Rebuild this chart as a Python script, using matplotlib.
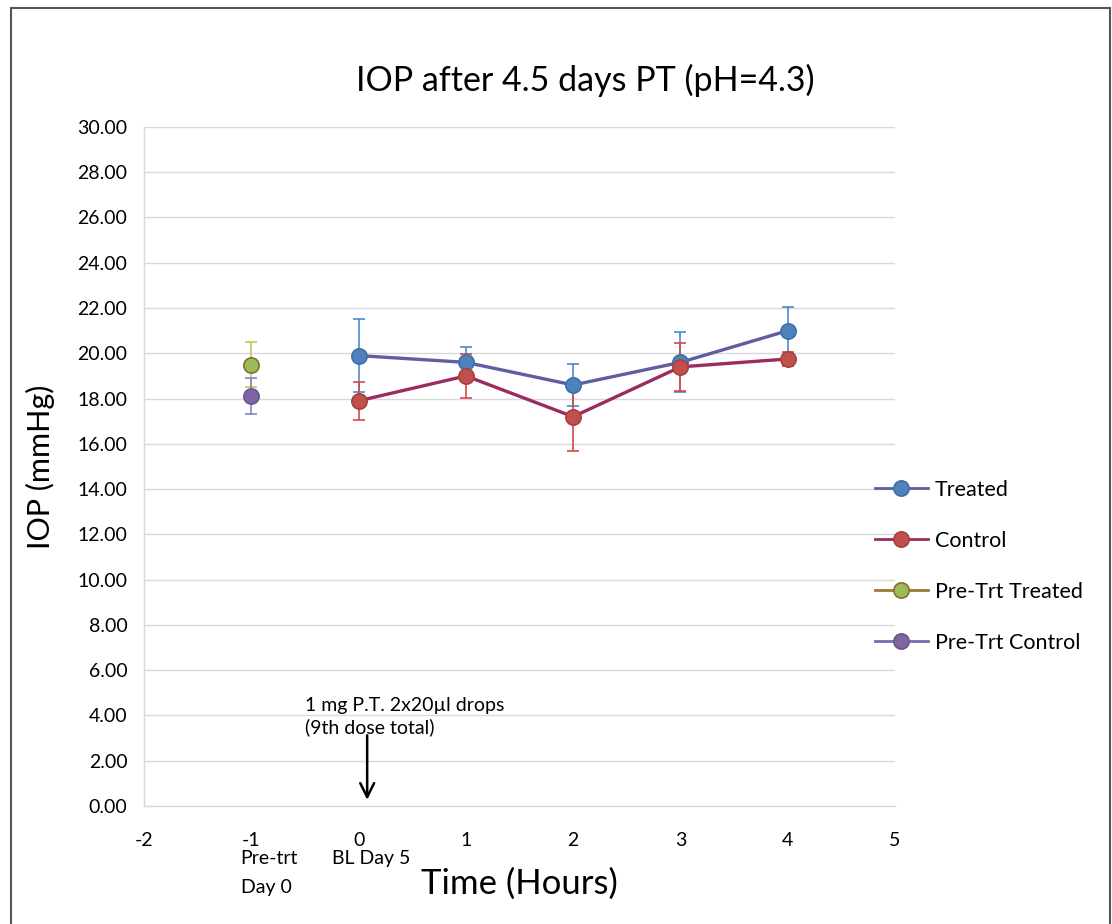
import matplotlib.pyplot as plt
from matplotlib.lines import Line2D
from matplotlib.patches import Rectangle

plt.rcParams["font.family"] = ["Lato", "DejaVu Sans"]
plt.rcParams["axes.unicode_minus"] = False

HOURS = [0, 1, 2, 3, 4]
TREATED = [19.9, 19.6, 18.6, 19.6, 21.0]
TREATED_ERR = [1.6, 0.67, 0.93, 1.33, 1.06]
CONTROL = [17.9, 19.0, 17.2, 19.4, 19.75]
CONTROL_ERR = [0.83, 0.97, 1.5, 1.05, 0.3]

PRE_X = [-1]
PRE_TREATED = [19.5]
PRE_TREATED_ERR = [1.0]
PRE_CONTROL = [18.1]
PRE_CONTROL_ERR = [0.8]

X_TICKS = [-2, -1, 0, 1, 2, 3, 4, 5]
Y_TICKS = [0, 2, 4, 6, 8, 10, 12, 14, 16, 18, 20, 22, 24, 26, 28, 30]

LABELS = ["Treated", "Control", "Pre-Trt Treated", "Pre-Trt Control"]


def draw_series(ax, x, y, err, line_col, face, edge, err_col):
    ax.errorbar(
        x, y, yerr=err,
        fmt="none",
        ecolor=err_col,
        elinewidth=1.2,
        capsize=4.5,
        capthick=1.2,
        zorder=2
    )
    ax.plot(
        x, y,
        color=line_col,
        linewidth=2.4,
        marker="o",
        markersize=11,
        markerfacecolor=face,
        markeredgecolor=edge,
        markeredgewidth=1.2,
        zorder=3
    )


def legend_handle(line_col, face, edge):
    return Line2D([], [], color=line_col, lw=2.0, marker="o", markersize=11,
                  markerfacecolor=face, markeredgecolor=edge,
                  markeredgewidth=1.2)


def main():

    fig = plt.figure(figsize=(11.12, 9.24), dpi=100)

    ax = fig.add_axes([0.1295, 0.1277, 0.6754, 0.7349])

    draw_series(ax, HOURS, TREATED, TREATED_ERR,
                "#5f5f9f", "#4f81bd", "#3f6fa8", "#4a8ad0")
    draw_series(ax, HOURS, CONTROL, CONTROL_ERR,
                "#9b2d5e", "#c0504d", "#a8403e", "#d44848")
    draw_series(ax, PRE_X, PRE_TREATED, PRE_TREATED_ERR,
                "#a07830", "#9bbb59", "#8c6d2e", "#b9d04a")
    draw_series(ax, PRE_X, PRE_CONTROL, PRE_CONTROL_ERR,
                "#7070b0", "#8064a2", "#6a5590", "#8585c0")

    ax.set_xlim(-2, 5)
    ax.set_ylim(0, 30)
    ax.set_xticks(X_TICKS)
    ax.set_yticks(Y_TICKS)
    ax.set_yticklabels([f"{v:.2f}" for v in Y_TICKS])
    ax.tick_params(axis="both", length=0, labelsize=14, colors="#000000")
    ax.tick_params(axis="x", pad=19)
    ax.tick_params(axis="y", pad=12)

    ax.grid(axis="y", color="#d9d9d9", linewidth=1.0)
    ax.set_axisbelow(True)
    for side in ["top", "right"]:
        ax.spines[side].set_visible(False)
    for side in ["left", "bottom"]:
        ax.spines[side].set_color("#d9d9d9")
        ax.spines[side].set_linewidth(1.0)

    fig.text(0.526, 0.913, "IOP after 4.5 days PT (pH=4.3)",
             fontsize=24.5, ha="center", va="center")
    ax.set_ylabel("IOP (mmHg)", fontsize=22, labelpad=16)
    ax.set_xlabel("Time (Hours)", fontsize=25, labelpad=13)

    ax.text(-1.1, -2.3, "Pre-trt", fontsize=14, ha="left", va="center")
    ax.text(-1.1, -3.6, "Day 0", fontsize=14, ha="left", va="center")
    ax.text(0.12, -2.3, "BL Day 5", fontsize=14, ha="center", va="center")

    ax.text(-0.5, 3.95, "1 mg P.T. 2x20\u00b5l drops\n(9th dose total)",
            fontsize=14, ha="left", va="center", linespacing=1.25)
    ax.annotate("", xy=(0.08, 0.15), xytext=(0.08, 3.25),
                arrowprops=dict(arrowstyle="->", color="black",
                                lw=1.8, mutation_scale=25))

    handles = [
        legend_handle("#5f5f9f", "#4f81bd", "#3f6fa8"),
        legend_handle("#9b2d5e", "#c0504d", "#a8403e"),
        legend_handle("#a07830", "#9bbb59", "#8c6d2e"),
        legend_handle("#7070b0", "#8064a2", "#6a5590"),
    ]
    fig.legend(
        handles, LABELS,
        loc="center left",
        bbox_to_anchor=(0.769, 0.387),
        frameon=False,
        fontsize=15.5,
        handlelength=2.5,
        handletextpad=0.3,
        labelspacing=1.44
    )

    fig.add_artist(Rectangle((0.0095, -0.01), 0.989, 1.001,
                             transform=fig.transFigure, fill=False,
                             edgecolor="#555555", linewidth=1.5))

    fig.savefig("out.png", dpi=100)
    plt.close(fig)


if __name__ == "__main__":
    main()
